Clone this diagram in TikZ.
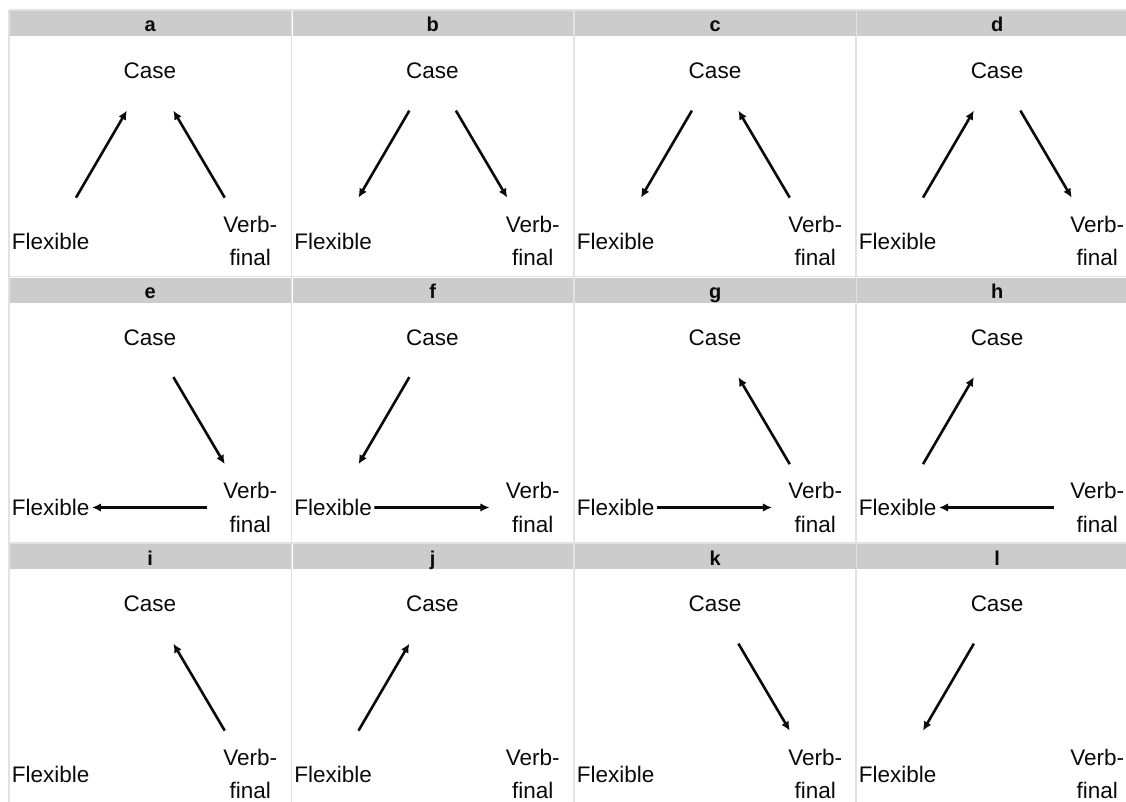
\documentclass[tikz,border=0pt]{standalone}
\usepackage{fontspec}
\setmainfont{Liberation Sans}
\usetikzlibrary{calc,arrows.meta}
\definecolor{hdrgray}{HTML}{CCCCCC}
\definecolor{gridgray}{HTML}{E2E2E2}
\definecolor{inkc}{HTML}{0A0A0A}
\tikzset{
  hdrbar/.style={fill=hdrgray, draw=none},
  hdrtxt/.style={anchor=base, inner sep=0pt, text=inkc, font=\fontsize{20}{24}\selectfont\bfseries},
  lbl/.style={inner sep=0pt, text=inkc, font=\fontsize{22.5}{33.4}\selectfont},
  gridline/.style={draw=gridgray, line width=1.4pt},
  conn/.style={draw=inkc, line width=2.6pt, -{Latex[length=9pt,width=8.5pt]}},
}
\newcommand\mkpanel[3]{% x0, y0, letter
  \fill[hdrbar] (#1,-#2) rectangle ++(280.5,-25);
  \node[hdrtxt] (#3-h) at (#1+140.25,-#2-21) {#3};
  \node[lbl] (#3-C) at (#1+140,-#2-60) {Case};
  \node[lbl,anchor=west] (#3-F) at (#1+1.7,-#2-230) {Flexible};
  \node[lbl,align=center] (#3-V) at (#1+240.3,-#2-230) {Verb-\\final};
}
% diagonal links
\newcommand\up[2]{\draw[conn] ($(#1)!0.255!(#2)$) -- ($(#1)!0.767!(#2)$);}
\newcommand\down[2]{\draw[conn] ($(#1)!0.233!(#2)$) -- ($(#1)!0.745!(#2)$);}
\newcommand\FtoV[1]{\draw[conn] ($(#1-F)!0.207!(#1-V)$) -- ($(#1-F)!0.783!(#1-V)$);}
\newcommand\VtoF[1]{\draw[conn] ($(#1-V)!0.217!(#1-F)$) -- ($(#1-V)!0.793!(#1-F)$);}
\begin{document}
\begin{tikzpicture}[x=1pt,y=1pt]
\useasboundingbox (0,0) rectangle (1126,-802);
\clip (0,0) rectangle (1126,-802);
\fill[white] (0,0) rectangle (1126,-802);
% grid lines
\foreach \gx in {8.8,291.3,573.8,856} {\draw[gridline] (\gx,-10) -- (\gx,-802);}
\foreach \gy in {10,276.3,542.8} {\draw[gridline] (8.8,-\gy) -- (1126,-\gy);}
% panels
\mkpanel{10}{11}{a}
\mkpanel{292.5}{11}{b}
\mkpanel{575}{11}{c}
\mkpanel{857}{11}{d}
\mkpanel{10}{277.5}{e}
\mkpanel{292.5}{277.5}{f}
\mkpanel{575}{277.5}{g}
\mkpanel{857}{277.5}{h}
\mkpanel{10}{544}{i}
\mkpanel{292.5}{544}{j}
\mkpanel{575}{544}{k}
\mkpanel{857}{544}{l}
% a
\up{a-F}{a-C} \up{a-V}{a-C}
% b
\down{b-C}{b-F} \down{b-C}{b-V}
% c
\down{c-C}{c-F} \up{c-V}{c-C}
% d
\up{d-F}{d-C} \down{d-C}{d-V}
% e
\down{e-C}{e-V} \VtoF{e}
% f
\down{f-C}{f-F} \FtoV{f}
% g
\up{g-V}{g-C} \FtoV{g}
% h
\up{h-F}{h-C} \VtoF{h}
% i
\up{i-V}{i-C}
% j
\up{j-F}{j-C}
% k
\down{k-C}{k-V}
% l
\down{l-C}{l-F}
\end{tikzpicture}
\end{document}
